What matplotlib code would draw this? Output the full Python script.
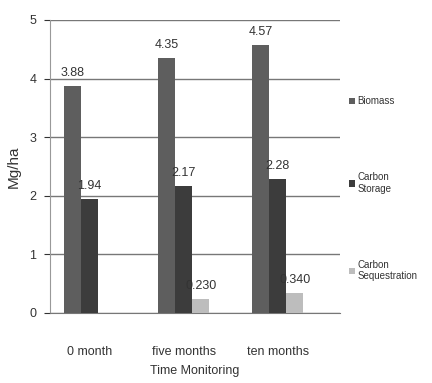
import matplotlib.pyplot as plt
import numpy as np

plt.rcParams.update({
    'font.family': 'Liberation Sans',
    'font.size': 9,
})

categories = ['0 month', 'five months', 'ten months']
biomass = [3.88, 4.35, 4.57]
carbon_storage = [1.94, 2.17, 2.28]
carbon_seq = [0, 0.230, 0.340]
biomass_lbl = ['3.88', '4.35', '4.57']
storage_lbl = ['1.94', '2.17', '2.28']
seq_lbl = ['', '0.230', '0.340']

fig = plt.figure(figsize=(4.32, 3.83), dpi=100)
ax = fig.add_axes([0.116, 0.183, 0.671, 0.765])

x = np.arange(len(categories))
w = 0.18
b1 = ax.bar(x - w, biomass, w, color='#5e5e5e', label='Biomass', zorder=3)
b2 = ax.bar(x, carbon_storage, w, color='#3c3c3c', label='Carbon\nStorage', zorder=3)
b3 = ax.bar(x + w, carbon_seq, w, color='#bdbdbd', label='Carbon\nSequestration', zorder=3)

for bars, lbls in [(b1, biomass_lbl), (b2, storage_lbl), (b3, seq_lbl)]:
    ax.bar_label(bars, labels=lbls, padding=5, fontsize=9, color='#333333', zorder=4)

ax.set_xlim(-0.42, 2.66)
ax.set_ylim(0, 5)
ax.set_yticks([0, 1, 2, 3, 4, 5])
ax.yaxis.grid(True, color='#777777', linewidth=1)
ax.set_axisbelow(True)
for s in ['top', 'right']:
    ax.spines[s].set_visible(False)
ax.spines['left'].set_color('#999999')
ax.spines['bottom'].set_color('#777777')
ax.tick_params(axis='y', colors='#333333', length=4, pad=6)
ax.tick_params(axis='x', colors='#333333', length=0, pad=24)
ax.set_xticks(x)
ax.set_xticklabels(categories)

ax.set_ylabel('Mg/ha', color='#333333', fontsize=11, labelpad=6)
ax.set_xlabel('Time Monitoring', color='#333333', fontsize=9, labelpad=5)

ax.legend(loc='upper left', bbox_to_anchor=(1.0, 0.77), frameon=False,
          fontsize=7, labelspacing=6.8, handlelength=0.6, handleheight=0.6,
          handletextpad=0.3, labelcolor='#333333')

fig.savefig('out.png', dpi=100)
